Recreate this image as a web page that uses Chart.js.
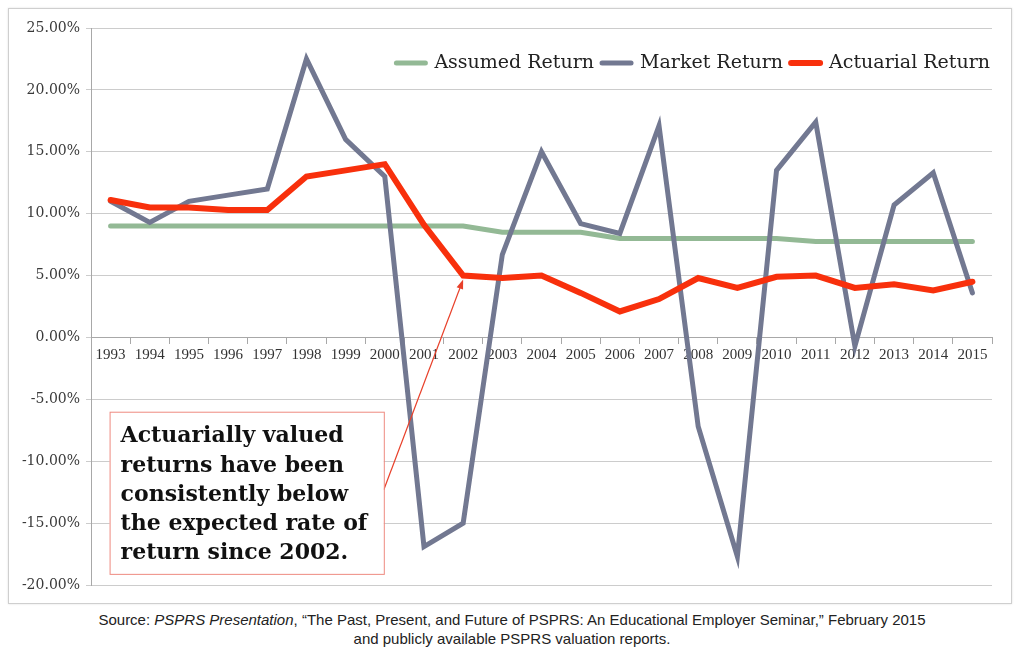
<!DOCTYPE html>
<html>
<head>
<meta charset="utf-8">
<script src="https://cdn.jsdelivr.net/npm/chart.js@4.4.1/dist/chart.umd.min.js"></script>
<style>
body { margin:0; background:#fff; width:1024px; height:648px; overflow:hidden; position:relative; }
#box { position:absolute; left:8px; top:8px; width:1002px; height:594px; border:1px solid #cfcfcf; box-shadow:0 0 2px rgba(0,0,0,0.12); }
#source { position:absolute; left:0; top:610px; width:1024px; text-align:center; font:15px "Liberation Sans", Arial, sans-serif; color:#222; line-height:19px; }
</style>
</head>
<body>
<div id="box"><canvas id="chart1" width="1002" height="594"></canvas></div>
<div id="source">Source: <i>PSPRS Presentation</i>, “The Past, Present, and Future of PSPRS: An Educational Employer Seminar,” February 2015<br>and publicly available PSPRS valuation reports.</div>
<script>
var years = ["1993","1994","1995","1996","1997","1998","1999","2000","2001","2002","2003","2004","2005","2006","2007","2008","2009","2010","2011","2012","2013","2014","2015"];
var assumedReturn = [9.0,9.0,9.0,9.0,9.0,9.0,9.0,9.0,9.0,9.0,8.5,8.5,8.5,8.0,8.0,8.0,8.0,8.0,7.75,7.75,7.75,7.75,7.75];
var marketReturn = [11.0,9.3,11.0,11.5,12.0,22.5,16.0,13.0,-16.9,-15.0,6.7,15.0,9.2,8.4,17.1,-7.2,-17.7,13.5,17.4,-0.7,10.7,13.3,3.6];
var actuarialReturn = [11.1,10.5,10.5,10.3,10.3,13.0,13.5,14.0,9.1,5.0,4.8,5.0,3.6,2.1,3.1,4.8,4.0,4.9,5.0,4.0,4.3,3.8,4.5];
var yTicks = [-20,-15,-10,-5,0,5,10,15,20,25];
var noteLines = ["Actuarially valued","returns have been","consistently below","the expected rate of","return since 2002."];

// 凡例（プロット内右上）
var legendPlugin = {
	id: 'insideLegend',
	afterDatasetsDraw: function(chart) {
		var ctx = chart.ctx,
			area = chart.chartArea,
			sets = chart.data.datasets,
			cy = area.top + 35,
			x = area.right - 2;
		ctx.save();
		ctx.font = '19px "DejaVu Serif", serif';
		ctx.textBaseline = 'middle';
		ctx.lineCap = 'round';
		for (var i = sets.length - 1; i >= 0; i--) {
			var w = ctx.measureText(sets[i].label).width;
			x -= w;
			ctx.fillStyle = '#222';
			ctx.fillText(sets[i].label, x, cy);
			ctx.strokeStyle = sets[i].borderColor;
			ctx.lineWidth = sets[i].borderWidth;
			ctx.beginPath();
			ctx.moveTo(x - 9, cy);
			ctx.lineTo(x - 38, cy);
			ctx.stroke();
			x -= 46;
		}
		ctx.restore();
	}
};

// 注記ボックスと矢印
var notePlugin = {
	id: 'note',
	afterDatasetsDraw: function(chart) {
		var ctx = chart.ctx,
			x = chart.scales.x,
			y = chart.scales.y,
			left = x.getPixelForValue(0) - 1,
			right = x.getPixelForValue(7) - 1,
			top = y.getPixelForValue(-6),
			bottom = y.getPixelForValue(-19.1),
			pt = chart.getDatasetMeta(2).data[9];
		ctx.save();
		// 矢印
		var sx = right, sy = y.getPixelForValue(-12.3),
			ex = pt.x, ey = pt.y + 4,
			ang = Math.atan2(ey - sy, ex - sx);
		ctx.strokeStyle = '#e8402a';
		ctx.fillStyle = '#e8402a';
		ctx.lineWidth = 1.2;
		ctx.beginPath();
		ctx.moveTo(sx, sy);
		ctx.lineTo(ex - 8 * Math.cos(ang), ey - 8 * Math.sin(ang));
		ctx.stroke();
		ctx.beginPath();
		ctx.moveTo(ex, ey);
		ctx.lineTo(ex - 10 * Math.cos(ang - 0.35), ey - 10 * Math.sin(ang - 0.35));
		ctx.lineTo(ex - 10 * Math.cos(ang + 0.35), ey - 10 * Math.sin(ang + 0.35));
		ctx.closePath();
		ctx.fill();
		// ボックス
		ctx.fillStyle = '#fff';
		ctx.fillRect(left, top, right - left, bottom - top);
		ctx.strokeStyle = '#ee8a80';
		ctx.lineWidth = 1;
		ctx.strokeRect(left + 0.5, top + 0.5, right - left, bottom - top);
		ctx.fillStyle = '#111';
		ctx.font = 'bold 22px "DejaVu Serif", serif';
		ctx.textBaseline = 'middle';
		for (var i = 0; i < noteLines.length; i++) {
			ctx.fillText(noteLines[i], left + 11, top + 25 + i * 29.2);
		}
		ctx.restore();
	}
};

var ctx = document.getElementById('chart1').getContext('2d');
var chart = new Chart(ctx, {
	type: 'line',
	data: {
		labels: years,
		datasets: [{
			label: 'Assumed Return',
			data: assumedReturn,
			borderColor: '#93b995',
			backgroundColor: '#93b995',
			borderWidth: 5,
			borderCapStyle: 'round',
			pointRadius: 0,
			order: 3
		}, {
			label: 'Market Return',
			data: marketReturn,
			borderColor: '#727891',
			backgroundColor: '#727891',
			borderWidth: 5,
			borderCapStyle: 'round',
			pointRadius: 0,
			order: 2
		}, {
			label: 'Actuarial Return',
			data: actuarialReturn,
			borderColor: '#f8300c',
			backgroundColor: '#f8300c',
			borderWidth: 6,
			borderCapStyle: 'round',
			pointRadius: 0,
			order: 1
		}]
	},
	options: {
		responsive: false,
		animation: false,
		layout: { padding: { left: 0, top: 19, right: 19, bottom: 18 } },
		plugins: {
			legend: { display: false },
			tooltip: { enabled: false }
		},
		scales: {
			x: {
				type: 'category',
				position: { y: 0 },
				offset: true,
				grid: { offset: true, drawOnChartArea: false, tickLength: 6, color: '#a8a8a8' },
				border: { color: '#a8a8a8' },
				ticks: {
					autoSkip: false,
					maxRotation: 0,
					padding: 3,
					color: '#333',
					font: { family: '"Liberation Serif", serif', size: 15 }
				}
			},
			y: {
				min: -20,
				max: 25,
				afterBuildTicks: function(scale) {
					scale.ticks = yTicks.map(function(v) { return { value: v }; });
				},
				afterFit: function(scale) { scale.width = 82; },
				grid: { color: '#cccccc', tickLength: 5 },
				border: { color: '#a8a8a8' },
				ticks: {
					padding: 6,
					color: '#3a3a3a',
					font: { family: '"DejaVu Serif", serif', size: 14 },
					callback: function(v) { return v.toFixed(2) + '%'; }
				}
			}
		}
	},
	plugins: [legendPlugin, notePlugin]
});
</script>
</body>
</html>
